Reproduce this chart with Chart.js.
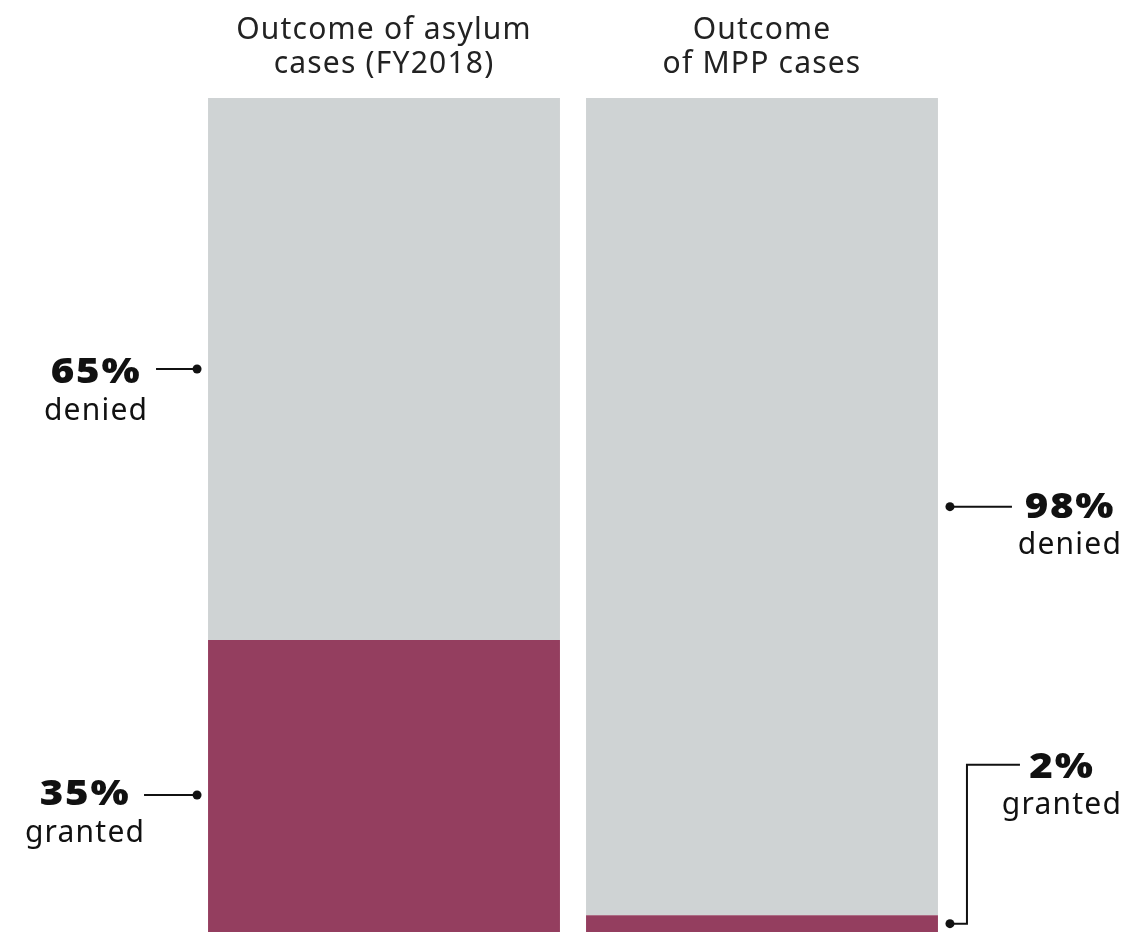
<!DOCTYPE html>
<html>
<head>
<meta charset="utf-8">
<script src="https://cdn.jsdelivr.net/npm/chart.js@4.4.1/dist/chart.umd.min.js"></script>
<style>
  html, body { margin: 0; padding: 0; background: #fff; }
  #wrap { width: 1123px; height: 933px; }
</style>
</head>
<body>
<div id="wrap"><canvas id="outcomes"></canvas></div>
<script>
// two outcome columns, stacked to 100%
const columns = [['Outcome of asylum', 'cases (FY2018)'], ['Outcome', 'of MPP cases']];
const granted = [35, 2];
const denied = [65, 98];

const GREY = '#cfd3d4';
const MAROON = '#943e5f';
const FONT = '"Noto Sans", sans-serif';

// wide tracking for all text on the canvas
const tracking = {
  id: 'tracking',
  beforeDraw(chart) { chart.ctx.letterSpacing = '1.2px'; }
};

// callout labels: percentage in bold with the word underneath, leader line + dot to the segment
const callouts = {
  id: 'callouts',
  afterDatasetsDraw(chart) {
    const { ctx, scales: { x, y } } = chart;
    const half = chart.getDatasetMeta(0).data[0].width / 2;

    function label(cx, cy, pct, word) {
      ctx.fillStyle = '#111';
      ctx.textAlign = 'center';
      ctx.textBaseline = 'middle';
      ctx.save();
      ctx.translate(cx, cy);
      ctx.scale(1.15, 1);
      ctx.letterSpacing = '1.5px';
      ctx.font = '900 35px ' + FONT;
      ctx.fillText(pct, 0, 0);
      ctx.restore();
      ctx.letterSpacing = '1.2px';
      ctx.font = '30px ' + FONT;
      ctx.fillText(word, cx, cy + 38);
    }
    function dot(px, py) {
      ctx.beginPath();
      ctx.arc(px, py, 4.5, 0, Math.PI * 2);
      ctx.fill();
    }

    ctx.save();
    ctx.strokeStyle = '#111';
    ctx.fillStyle = '#111';
    ctx.lineWidth = 2;

    // left column, labels on the left side
    const l = x.getPixelForValue(0) - half;
    const yDen0 = y.getPixelForValue(granted[0] + denied[0] / 2);
    const yGr0 = y.getPixelForValue(granted[0] / 2) + 9;
    ctx.beginPath();
    ctx.moveTo(l - 52, yDen0); ctx.lineTo(l - 11, yDen0);
    ctx.moveTo(l - 64, yGr0); ctx.lineTo(l - 11, yGr0);
    ctx.stroke();
    dot(l - 11, yDen0);
    dot(l - 11, yGr0);
    label(l - 112, yDen0 + 4, denied[0] + '%', 'denied');
    label(l - 123, yGr0 + 0, granted[0] + '%', 'granted');

    // right column, labels on the right side
    const r = x.getPixelForValue(1) + half;
    const yDen1 = y.getPixelForValue(granted[1] + denied[1] / 2);
    const yGr1 = y.getPixelForValue(granted[1] / 2);
    const elbowY = yDen1 + 258;
    ctx.beginPath();
    ctx.moveTo(r + 12, yDen1); ctx.lineTo(r + 74, yDen1);
    ctx.moveTo(r + 12, yGr1); ctx.lineTo(r + 29, yGr1);
    ctx.lineTo(r + 29, elbowY); ctx.lineTo(r + 82, elbowY);
    ctx.stroke();
    dot(r + 12, yDen1);
    dot(r + 12, yGr1);
    label(r + 132, yDen1 + 1, denied[1] + '%', 'denied');
    label(r + 124, elbowY + 3, granted[1] + '%', 'granted');
    ctx.restore();
  }
};

new Chart(document.getElementById('outcomes'), {
  type: 'bar',
  data: {
    labels: columns,
    datasets: [
      { label: 'granted', data: granted, backgroundColor: MAROON },
      { label: 'denied', data: denied, backgroundColor: GREY }
    ]
  },
  options: {
    responsive: true,
    maintainAspectRatio: false,
    animation: false,
    layout: { padding: { left: 195, right: 172, bottom: 1, top: 0 } },
    datasets: { bar: { categoryPercentage: 1, barPercentage: 0.931 } },
    plugins: { legend: { display: false }, tooltip: { enabled: false } },
    scales: {
      x: {
        stacked: true,
        position: 'top',
        grid: { display: false, drawTicks: false },
        border: { display: false },
        ticks: { color: '#222', font: { family: FONT, size: 30, lineHeight: 1.13 }, padding: 17, maxRotation: 0 },
        afterFit(scale) { scale.height = 98; }
      },
      y: {
        stacked: true,
        display: false,
        min: 0,
        max: 100
      }
    }
  },
  plugins: [tracking, callouts]
});
</script>
</body>
</html>
